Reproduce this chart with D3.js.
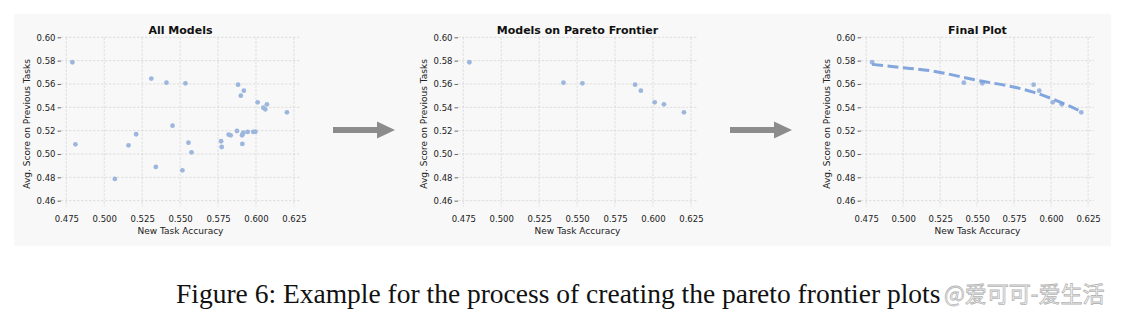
<!DOCTYPE html>
<html><head><meta charset="utf-8">
<script src="https://cdn.jsdelivr.net/npm/d3@7"></script>
<style>
html,body{margin:0;padding:0;background:#fff;}
svg{display:block;}
</style></head>
<body>
<svg id="fig" width="1126" height="319"></svg>
<script>
// ---- data ----
const panelTitles = ["All Models", "Models on Pareto Frontier", "Final Plot"];
const xTicks = [0.475, 0.500, 0.525, 0.550, 0.575, 0.600, 0.625];
const yTicks = [0.46, 0.48, 0.50, 0.52, 0.54, 0.56, 0.58, 0.60];
const xLabel = "New Task Accuracy";
const yLabel = "Avg. Score on Previous Tasks";
const allAcc = [0.479,0.481,0.507,0.516,0.521,0.531,0.534,0.541,0.545,0.5515,0.5535,0.5555,0.5575,0.577,0.5774,0.582,0.5833,0.5875,0.5882,0.590,0.592,0.591,0.5908,0.5912,0.5917,0.5945,0.5982,0.5996,0.6011,0.6048,0.6061,0.6072,0.6204];
const allPrev = [0.5786,0.5083,0.4786,0.5074,0.5169,0.5646,0.4889,0.5611,0.5243,0.4860,0.5606,0.5097,0.5014,0.5109,0.5060,0.5166,0.5160,0.5197,0.5594,0.5500,0.5543,0.5086,0.5160,0.5171,0.5183,0.5189,0.5189,0.5191,0.5443,0.5397,0.5383,0.5426,0.5357];
const paretoAcc = [0.479,0.541,0.5535,0.5882,0.592,0.6011,0.6072,0.6204];
const paretoPrev = [0.5786,0.5611,0.5606,0.5594,0.5543,0.5443,0.5426,0.5357];
const curveAcc = [0.479,0.497,0.520,0.549,0.577,0.588,0.602,0.611,0.621];
const curvePrev = [0.5768,0.5743,0.5711,0.5634,0.5567,0.5530,0.5466,0.5418,0.5360];
const caption = "Figure 6: Example for the process of creating the pareto frontier plots";
const watermark = "@爱可可-爱生活";

// ---- layout ----
const svg = d3.select("#fig");
const bg = "#f8f8f8";
svg.append("rect").attr("x",14).attr("y",14).attr("width",1097).attr("height",232).attr("fill",bg);

const panels = [
  {left:61, right:300},
  {left:458, right:697},
  {left:861, right:1094}
];
const plotTop = 37.3, plotBottom = 206.5;
const xDomain = [0.4715, 0.6290];
const yDomain = [0.455, 0.600];
const ptColor = "#9db6de";
const lineColor = "#7ba1db";
const font = "DejaVu Sans, sans-serif";

panels.forEach((p, i) => {
  const x = d3.scaleLinear().domain(xDomain).range([p.left, p.right]);
  const y = d3.scaleLinear().domain(yDomain).range([plotBottom, plotTop]);
  const g = svg.append("g");

  // grid
  g.append("g").selectAll("line").data(xTicks).join("line")
    .attr("x1", d => x(d)).attr("x2", d => x(d)).attr("y1", plotTop).attr("y2", plotBottom)
    .attr("stroke", "#d2d2d2").attr("stroke-width", 0.7).attr("stroke-dasharray", "2.5,1.5");
  g.append("g").selectAll("line").data(yTicks).join("line")
    .attr("x1", p.left).attr("x2", p.right).attr("y1", d => y(d)).attr("y2", d => y(d))
    .attr("stroke", "#d2d2d2").attr("stroke-width", 0.7).attr("stroke-dasharray", "2.5,1.5");

  // axes
  const xa = g.append("g").attr("transform", `translate(0,${plotBottom})`)
    .call(d3.axisBottom(x).tickValues(xTicks).tickFormat(d3.format(".3f")).tickSize(3).tickPadding(6));
  const ya = g.append("g").attr("transform", `translate(${p.left},0)`)
    .call(d3.axisLeft(y).tickValues(yTicks).tickFormat(d3.format(".2f")).tickSize(3.5).tickPadding(2));
  [xa, ya].forEach(a => {
    a.select(".domain").remove();
    a.selectAll(".tick line").attr("stroke", "#444").attr("stroke-width", 0.8);
    a.selectAll("text").attr("font-family", font).attr("font-size", 8.5).attr("fill", "#222");
  });
  xa.selectAll(".tick line").attr("stroke", "none");

  // labels
  g.append("text").attr("x", (p.left + p.right) / 2).attr("y", 233.5).attr("text-anchor", "middle")
    .attr("font-family", font).attr("font-size", 9).attr("fill", "#222").text(xLabel);
  g.append("text").attr("transform", `translate(${p.left - 31},${(plotTop + plotBottom) / 2 + 2}) rotate(-90)`)
    .attr("text-anchor", "middle").attr("font-family", font).attr("font-size", 9).attr("fill", "#222").text(yLabel);
  g.append("text").attr("x", (p.left + p.right) / 2).attr("y", 34).attr("text-anchor", "middle")
    .attr("font-family", font).attr("font-size", 11).attr("font-weight", "bold").attr("fill", "#111").text(panelTitles[i]);

  // points
  const accs = i === 0 ? allAcc : paretoAcc;
  const prevs = i === 0 ? allPrev : paretoPrev;
  g.append("g").selectAll("circle").data(accs).join("circle")
    .attr("cx", d => x(d)).attr("cy", (d, k) => y(prevs[k])).attr("r", 2.4)
    .attr("fill", ptColor);

  if (i === 2) {
    const line = d3.line().x(d => x(d[0])).y(d => y(d[1])).curve(d3.curveMonotoneX);
    g.append("path").datum(curveAcc.map((a, k) => [a, curvePrev[k]]))
      .attr("d", line).attr("fill", "none").attr("stroke", lineColor)
      .attr("stroke-width", 3).attr("stroke-dasharray", "11,4.5").attr("opacity", 0.95);
  }
});

// arrows
function arrow(x0, x1, yc) {
  const head = 18, shaftH = 3, headH = 8.5;
  svg.append("path")
    .attr("d", `M${x0},${yc - shaftH} L${x1 - head},${yc - shaftH} L${x1 - head},${yc - headH} L${x1},${yc} L${x1 - head},${yc + headH} L${x1 - head},${yc + shaftH} L${x0},${yc + shaftH} Z`)
    .attr("fill", "#8c8c8c");
}
arrow(333, 395, 130);
arrow(730, 792, 130);

// caption
svg.append("text").attr("x", 176).attr("y", 303).attr("font-family", "Liberation Serif, Times New Roman, serif")
  .attr("font-size", 27.5).attr("fill", "#111").text(caption);
svg.append("text").attr("x", 944).attr("y", 302).attr("font-family", "Noto Sans CJK SC, sans-serif")
  .attr("font-size", 22).attr("fill", "#ffffff").attr("fill-opacity", 0.75)
  .attr("stroke", "#b5b5b5").attr("stroke-width", 0.8).text(watermark);
</script>
</body></html>
